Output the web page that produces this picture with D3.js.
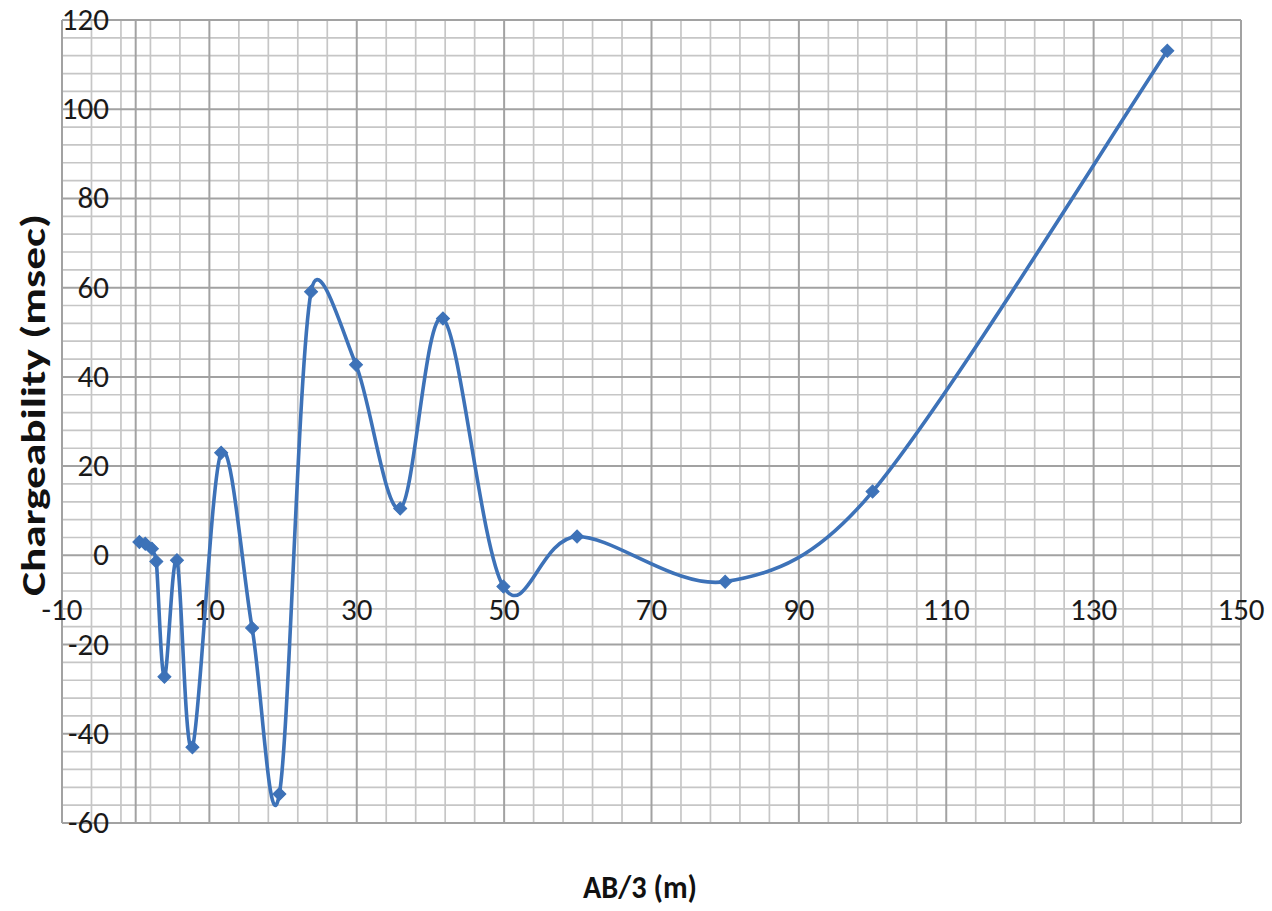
<!DOCTYPE html>
<html>
<head>
<meta charset="utf-8">
<script src="https://cdn.jsdelivr.net/npm/d3@7"></script>
<style>
  html, body { margin: 0; padding: 0; background: #ffffff; }
  svg { display: block; }
</style>
</head>
<body>
<svg id="chart" width="1272" height="911"></svg>
<script>
// ---- data ----
const abValues = [0.5, 1.3, 2.2, 2.8, 3.9, 5.6, 7.7, 11.6, 15.8, 19.5, 23.8, 29.9, 35.9, 41.7, 49.9, 59.9, 80, 100, 140];
const chargeability = [3.0, 2.6, 1.5, -1.4, -27.2, -1.1, -43.0, 23.0, -16.3, -53.5, 59.1, 42.7, 10.5, 53.1, -7.0, 4.2, -5.9, 14.3, 113.1];
const xTickLabels = [-10, 10, 30, 50, 70, 90, 110, 130, 150];
const yTickLabels = [-60, -40, -20, 0, 20, 40, 60, 80, 100, 120];
const xTitle = "AB/3 (m)";
const yTitle = "Chargeability (msec)";

const W = 1272, H = 911;
const plot = { left: 62, right: 1241, top: 20, bottom: 823 };
const svg = d3.select("#chart");

const x = d3.scaleLinear().domain([-10, 150]).range([plot.left, plot.right]);
const y = d3.scaleLinear().domain([-60, 120]).range([plot.bottom, plot.top]);

const fontFamily = "Calibri, Carlito, 'Liberation Sans', Arial, sans-serif";
const lineColor = "#3d72b8";

// minor grid (every 4 units)
const g = svg.append("g");
const xMinor = d3.range(-10, 150.001, 4).filter(v => (v + 10) % 20 !== 0);
const yMinor = d3.range(-60, 120.001, 4).filter(v => v % 20 !== 0);
g.selectAll("line.xminor").data(xMinor).join("line")
  .attr("x1", d => x(d)).attr("x2", d => x(d))
  .attr("y1", plot.top).attr("y2", plot.bottom)
  .attr("stroke", "#c6c6c6").attr("stroke-width", 1.7);
g.selectAll("line.yminor").data(yMinor).join("line")
  .attr("y1", d => y(d)).attr("y2", d => y(d))
  .attr("x1", plot.left).attr("x2", plot.right)
  .attr("stroke", "#c6c6c6").attr("stroke-width", 1.7);

// major grid
g.selectAll("line.xmajor").data(xTickLabels).join("line")
  .attr("x1", d => x(d)).attr("x2", d => x(d))
  .attr("y1", plot.top).attr("y2", plot.bottom)
  .attr("stroke", "#a2a2a2").attr("stroke-width", 2);
g.selectAll("line.ymajor").data(yTickLabels).join("line")
  .attr("y1", d => y(d)).attr("y2", d => y(d))
  .attr("x1", plot.left).attr("x2", plot.right)
  .attr("stroke", "#a2a2a2").attr("stroke-width", 2);

// vertical axis line at x = 0
g.append("line")
  .attr("x1", x(0)).attr("x2", x(0))
  .attr("y1", plot.top).attr("y2", plot.bottom)
  .attr("stroke", "#a2a2a2").attr("stroke-width", 2);

// tick labels
svg.append("g").selectAll("text").data(yTickLabels).join("text")
  .attr("x", 109).attr("y", d => y(d) + 10)
  .attr("text-anchor", "end")
  .attr("font-family", fontFamily).attr("font-size", 31).attr("fill", "#1a1a1a")
  .text(d => d);
svg.append("g").selectAll("text").data(xTickLabels).join("text")
  .attr("x", d => x(d)).attr("y", 620)
  .attr("text-anchor", "middle")
  .attr("font-family", fontFamily).attr("font-size", 31).attr("fill", "#1a1a1a")
  .text(d => d);

// axis titles
svg.append("text")
  .attr("transform", "translate(45,405) rotate(-90)")
  .attr("text-anchor", "middle")
  .attr("font-family", fontFamily).attr("font-size", 35).attr("font-weight", "bold")
  .attr("fill", "#111")
  .attr("textLength", 382).attr("lengthAdjust", "spacingAndGlyphs")
  .text(yTitle);
svg.append("text")
  .attr("x", 640).attr("y", 898)
  .attr("text-anchor", "middle")
  .attr("font-family", fontFamily).attr("font-size", 33).attr("font-weight", "bold")
  .attr("fill", "#111")
  .attr("textLength", 114).attr("lengthAdjust", "spacingAndGlyphs")
  .text(xTitle);

// Excel-like smoothing curve: Bezier with tangents (P[i+1]-P[i-1])/6,
// control offsets capped to half of the adjacent segment length.
function excelSmooth(context) {
  let pts = [];
  return {
    areaStart() {}, areaEnd() {},
    lineStart() { pts = []; },
    point(px, py) { pts.push([px, py]); },
    lineEnd() {
      const n = pts.length;
      if (!n) return;
      context.moveTo(pts[0][0], pts[0][1]);
      const dist = (a, b) => Math.hypot(b[0] - a[0], b[1] - a[1]);
      for (let i = 0; i < n - 1; i++) {
        const p0 = pts[Math.max(0, i - 1)], p1 = pts[i], p2 = pts[i + 1], p3 = pts[Math.min(n - 1, i + 2)];
        const seg = dist(p1, p2);
        let t1 = [(p2[0] - p0[0]) / 6, (p2[1] - p0[1]) / 6];
        let t2 = [(p3[0] - p1[0]) / 6, (p3[1] - p1[1]) / 6];
        const l1 = Math.hypot(t1[0], t1[1]), l2 = Math.hypot(t2[0], t2[1]);
        if (l1 > seg / 2) { const s = (seg / 2) / l1; t1 = [t1[0] * s, t1[1] * s]; }
        if (l2 > seg / 2) { const s = (seg / 2) / l2; t2 = [t2[0] * s, t2[1] * s]; }
        context.bezierCurveTo(p1[0] + t1[0], p1[1] + t1[1], p2[0] - t2[0], p2[1] - t2[1], p2[0], p2[1]);
      }
    }
  };
}

const data = abValues.map((v, i) => ({ x: v, y: chargeability[i] }));
const line = d3.line().x(d => x(d.x)).y(d => y(d.y)).curve(excelSmooth);
svg.append("path").datum(data)
  .attr("d", line)
  .attr("fill", "none").attr("stroke", lineColor).attr("stroke-width", 3.6)
  .attr("stroke-linejoin", "round");

// diamond markers
const diamond = d3.symbol(d3.symbolSquare, 85);
svg.append("g").selectAll("path").data(data).join("path")
  .attr("d", diamond)
  .attr("transform", d => `translate(${x(d.x)},${y(d.y)}) rotate(45)`)
  .attr("fill", lineColor).attr("stroke", lineColor).attr("stroke-width", 1);
</script>
</body>
</html>
